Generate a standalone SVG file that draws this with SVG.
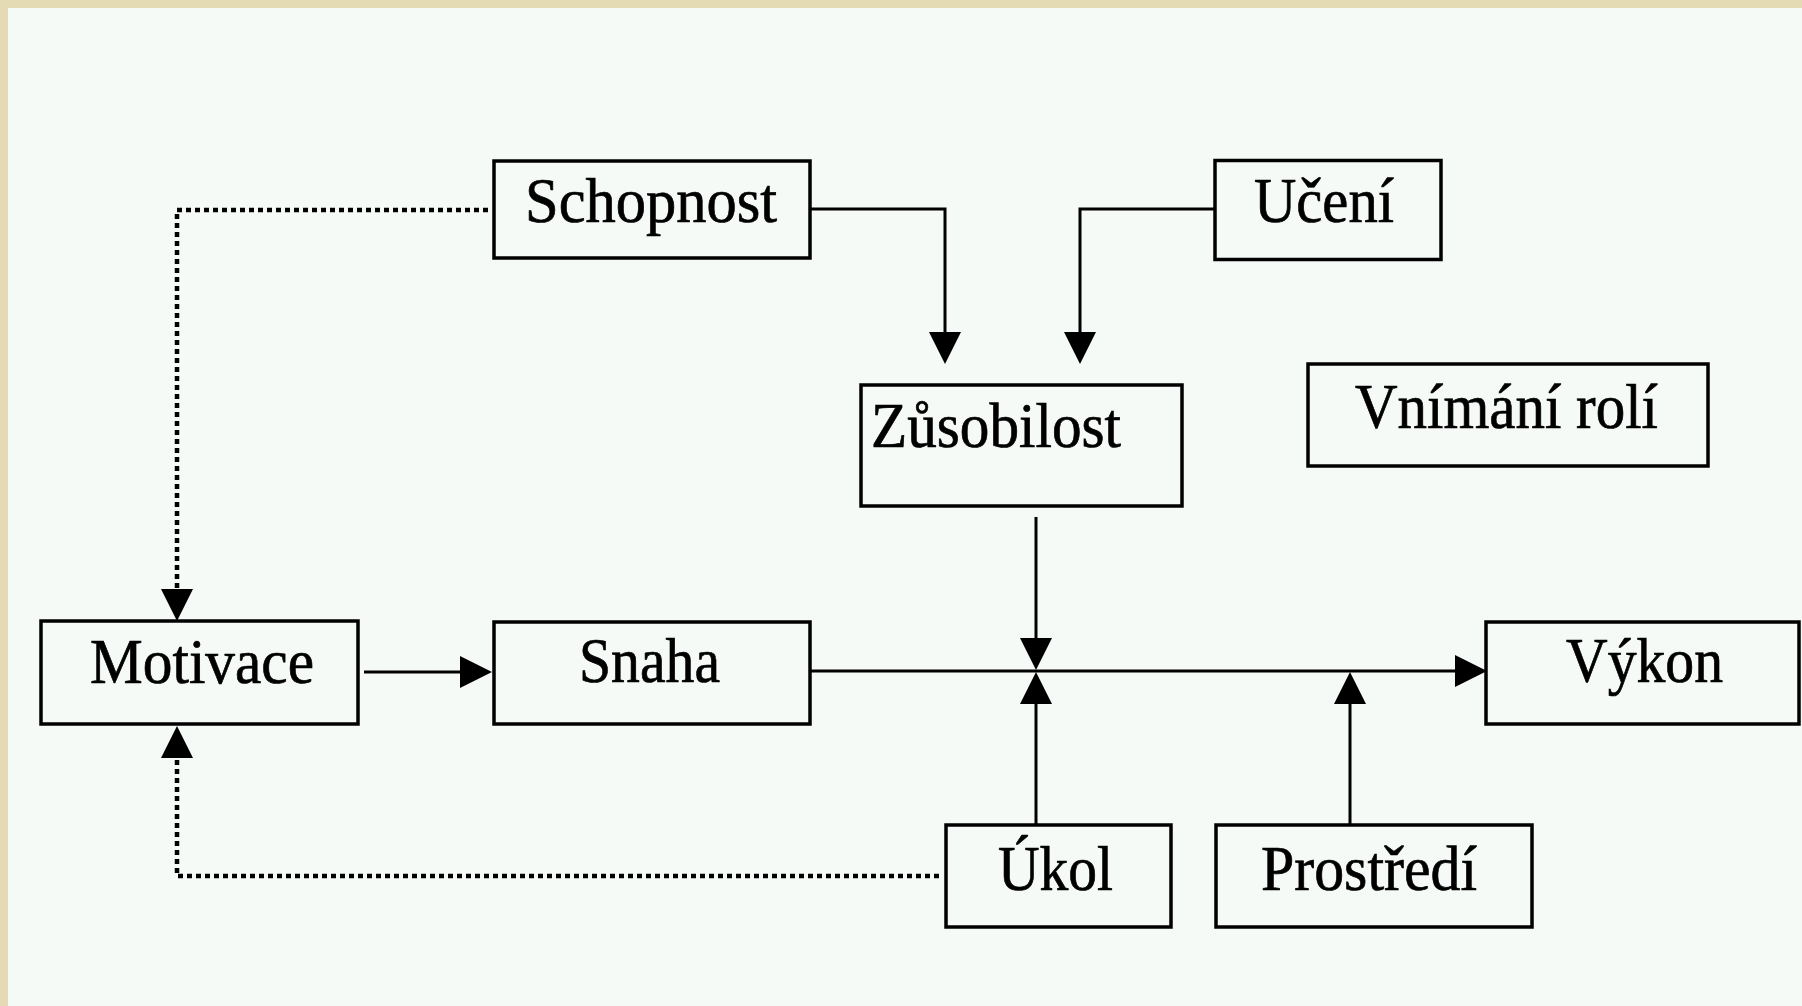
<svg xmlns="http://www.w3.org/2000/svg" width="1802" height="1006" viewBox="0 0 1802 1006">
  <style>
    .box { fill: none; stroke: #000; stroke-width: 3.5; }
    .lbl { font-family: "Liberation Serif", "Times New Roman", serif; font-size: 64px; fill: #000; stroke: #000; stroke-width: 0.7; }
    .line { fill: none; stroke: #000; stroke-width: 3; }
    .dot { fill: none; stroke: #000; stroke-width: 4.5; stroke-dasharray: 5 4; }
  </style>
  <defs>
    <marker id="ah" markerUnits="userSpaceOnUse" markerWidth="32" markerHeight="32" viewBox="0 0 30 30" refX="0" refY="15" orient="auto">
      <path d="M0,0 L30,15 L0,30 Z" fill="#000" stroke="none"/>
    </marker>
  </defs>
  <rect x="0" y="0" width="1802" height="1006" fill="#e4dab4"/>
  <rect x="8" y="8" width="1794" height="998" fill="#f5faf7"/>

  <g id="connectors">
    <path class="line" d="M811,209 H945 V332" marker-end="url(#ah)"/>
    <path class="line" d="M1215,209 H1080 V332" marker-end="url(#ah)"/>
    <path class="line" d="M1036,517 V638" marker-end="url(#ah)"/>
    <path class="line" d="M811,671 H1455" marker-end="url(#ah)"/>
    <path class="line" d="M1036,824 V704" marker-end="url(#ah)"/>
    <path class="line" d="M1350,824 V704" marker-end="url(#ah)"/>
    <path class="line" d="M364,672 H460" marker-end="url(#ah)"/>
    <path class="dot" d="M488,210 H177 V588"/>
    <path d="M177,588 V589" fill="none" stroke="none" marker-end="url(#ah)"/>
    <path class="dot" d="M939,876 H177 V759"/>
    <path d="M177,759 V758" fill="none" stroke="none" marker-end="url(#ah)"/>
  </g>

  <g id="schopnost">
    <rect class="box" x="494" y="161" width="316" height="97"/>
    <text class="lbl" x="525" y="222" textLength="252" lengthAdjust="spacingAndGlyphs">Schopnost</text>
  </g>
  <g id="uceni">
    <rect class="box" x="1215" y="160.5" width="226" height="99"/>
    <text class="lbl" x="1254" y="222" textLength="140" lengthAdjust="spacingAndGlyphs">Učení</text>
  </g>
  <g id="zusobilost">
    <rect class="box" x="861" y="385" width="321" height="121"/>
    <text class="lbl" x="871" y="447" textLength="250" lengthAdjust="spacingAndGlyphs">Zůsobilost</text>
  </g>
  <g id="vnimani-roli">
    <rect class="box" x="1308" y="364" width="400" height="102"/>
    <text class="lbl" x="1355" y="428" textLength="303" lengthAdjust="spacingAndGlyphs">Vnímání rolí</text>
  </g>
  <g id="motivace">
    <rect class="box" x="41" y="621" width="317" height="103"/>
    <text class="lbl" x="90" y="683" textLength="224" lengthAdjust="spacingAndGlyphs">Motivace</text>
  </g>
  <g id="snaha">
    <rect class="box" x="494" y="622" width="316" height="102"/>
    <text class="lbl" x="579" y="682" textLength="141" lengthAdjust="spacingAndGlyphs">Snaha</text>
  </g>
  <g id="vykon">
    <rect class="box" x="1486" y="622" width="313" height="102"/>
    <text class="lbl" x="1566" y="682" textLength="157" lengthAdjust="spacingAndGlyphs">Výkon</text>
  </g>
  <g id="ukol">
    <rect class="box" x="946" y="825" width="225" height="102"/>
    <text class="lbl" x="998" y="890" textLength="115" lengthAdjust="spacingAndGlyphs">Úkol</text>
  </g>
  <g id="prostredi">
    <rect class="box" x="1216" y="825" width="316" height="102"/>
    <text class="lbl" x="1261" y="890" textLength="216" lengthAdjust="spacingAndGlyphs">Prostředí</text>
  </g>
</svg>
